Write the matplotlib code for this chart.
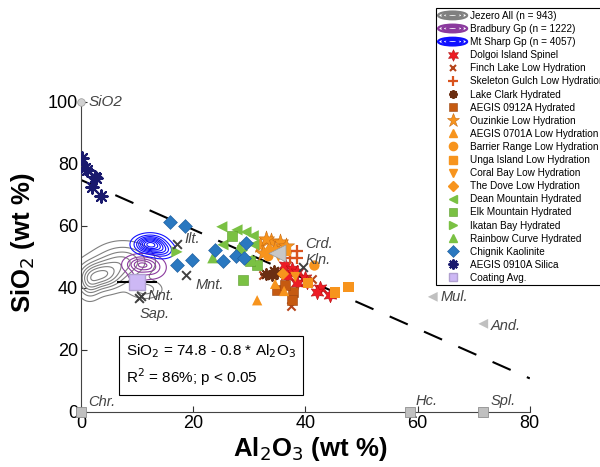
import numpy as np
import matplotlib.pyplot as plt
from matplotlib.lines import Line2D
from matplotlib.patches import Ellipse
from matplotlib.legend_handler import HandlerBase

plt.rcParams['font.family'] = ['Liberation Sans', 'DejaVu Sans']

# --- data (Al2O3, SiO2 in wt %) ---
dolgoi_x = [36.4, 37.6, 38.5, 39.9, 38.5, 40.3, 42.6, 42.0, 44.4, 36.8]
dolgoi_y = [47.4, 46.0, 45.2, 43.2, 41.6, 41.9, 40.0, 38.7, 37.7, 43.8]
finch_x = [37.4, 32.4, 41.2]
finch_y = [34.3, 44.2, 42.8]
skeleton_x = [37.3, 38.5, 37.3, 38.5]
skeleton_y = [52.0, 52.0, 49.6, 49.6]
lakeclark_x = [33.0, 34.0, 35.0, 34.4]
lakeclark_y = [44.4, 44.0, 44.8, 45.4]
aegis0912_x = [34.9, 37.8, 37.6, 36.4]
aegis0912_y = [39.4, 38.6, 36.1, 41.0]
ouzinkie_x = [31.9, 33.9, 35.5, 32.4, 34.6, 36.6, 33.0]
ouzinkie_y = [53.9, 55.2, 54.8, 51.3, 52.6, 53.6, 55.8]
aegis0701_x = [31.4, 34.6, 36.2]
aegis0701_y = [36.0, 41.3, 39.0]
barrier_x = [41.6, 33.4]
barrier_y = [47.2, 50.2]
unga_x = [47.7, 45.3, 36.6, 40.5]
unga_y = [40.2, 38.5, 51.8, 41.5]
coral_x = [35.2, 38.2]
coral_y = [50.0, 43.5]
dove_x = [33.6, 36.0]
dove_y = [52.2, 44.5]
dean_x = [25.1, 27.8, 30.7, 25.3, 30.8, 29.4]
dean_y = [59.7, 58.7, 56.8, 53.9, 53.9, 58.0]
elk_x = [26.9, 28.9, 31.4, 30.2]
elk_y = [56.8, 42.4, 47.4, 48.6]
ikatan_x = [17.1, 28.8]
ikatan_y = [51.6, 52.0]
rainbow_x = [23.5, 28.3, 30.5]
rainbow_y = [49.7, 53.2, 49.0]
chignik_x = [15.9, 18.6, 23.9, 25.3, 27.6, 29.0, 29.4, 17.1, 19.7]
chignik_y = [61.2, 60.0, 52.3, 48.6, 50.3, 49.7, 54.5, 47.3, 49.0]
silica_x = [0.2, 0.7, 1.1, 2.5, 2.7, 2.0, 3.6]
silica_y = [82.0, 78.7, 78.0, 75.8, 75.5, 72.6, 69.7]
coating_x, coating_y, coating_err = 10.0, 42.0, 3.6

# reference minerals
min_names = ['SiO2', 'Chr.', 'Hc.', 'Spl.', 'Mul.', 'And.', 'Crd.', 'Kln.', 'Ilt.', 'Mnt.', 'Nnt.', 'Sap.']
min_x = [0.0, 0.0, 58.6, 71.7, 62.7, 71.7, 34.9, 39.6, 17.1, 18.7, 10.7, 10.4]
min_y = [100.0, 0.0, 0.0, 0.0, 37.1, 28.4, 51.3, 46.8, 54.2, 44.2, 37.4, 36.6]

# regression
fit_a, fit_b = 74.8, -0.8

# density clouds (sum of gaussian blobs: centre x, centre y, sx, sy, weight)
jezero_blobs = [(3.5, 44.0, 2.5, 3.0, 1.0), (7.5, 48.5, 3.0, 3.5, 0.6),
                (11.5, 39.5, 1.8, 1.8, 0.35), (1.5, 41.0, 1.2, 3.0, 0.4)]
bradbury_blobs = [(10.5, 47.5, 1.5, 1.6, 1.0), (12.6, 46.5, 1.4, 2.0, 0.5),
                  (10.0, 43.8, 0.9, 1.2, 0.3)]
mtsharp_blobs = [(12.3, 54.0, 1.6, 1.7, 1.0), (14.6, 52.0, 1.3, 1.5, 0.35)]

fig = plt.figure(figsize=(6, 4.67), dpi=100)
ax = fig.add_axes([0.135, 0.118, 0.748, 0.664])

gx, gy = np.meshgrid(np.linspace(-2, 25, 300), np.linspace(25, 70, 300))


def density(blobs):
    z = np.zeros_like(gx)
    for cx, cy, sx, sy, w in blobs:
        z += w * np.exp(-0.5 * (((gx - cx) / sx) ** 2 + ((gy - cy) / sy) ** 2))
    return z


for blobs, col, n in [(jezero_blobs, '#808080', 7), (bradbury_blobs, '#8b3a9e', 5),
                      (mtsharp_blobs, '#1010ff', 8)]:
    z = density(blobs)
    ax.contour(gx, gy, z, levels=np.linspace(0.08, 0.92, n) * z.max(),
               colors=col, linewidths=0.8)

xs = np.array([0, 80])
ax.plot(xs, fit_a + fit_b * xs, color='black', lw=1.5, ls=(0, (9.5, 8.5)), zorder=2)

orange = '#f7941d'
green = '#7ac143'
series = [
    ('Dolgoi Island Spinel', dolgoi_x, dolgoi_y, dict(marker=(6, 1, 0), color='#ee1c25', s=110, edgecolors='#b01010', linewidths=0.4)),
    ('Finch Lake Low Hydration', finch_x, finch_y, dict(marker='x', color='#b5441a', s=35, linewidths=1.5)),
    ('Skeleton Gulch Low Hydration', skeleton_x, skeleton_y, dict(marker='+', color='#d9531e', s=70, linewidths=1.6)),
    ('Lake Clark Hydrated', lakeclark_x, lakeclark_y, dict(marker=(8, 2, 0), color='#6b2e12', s=60, linewidths=1.4)),
    ('AEGIS 0912A Hydrated', aegis0912_x, aegis0912_y, dict(marker='s', color='#c55a11', s=55, edgecolors='#9a4510', linewidths=0.4)),
    ('Ouzinkie Low Hydration', ouzinkie_x, ouzinkie_y, dict(marker='*', color=orange, s=150, edgecolors='#c86a10', linewidths=0.4)),
    ('AEGIS 0701A Low Hydration', aegis0701_x, aegis0701_y, dict(marker='^', color=orange, s=55, edgecolors='none')),
    ('Barrier Range Low Hydration', barrier_x, barrier_y, dict(marker='o', color=orange, s=55, edgecolors='none')),
    ('Unga Island Low Hydration', unga_x, unga_y, dict(marker='s', color=orange, s=55, edgecolors='none')),
    ('Coral Bay Low Hydration', coral_x, coral_y, dict(marker='v', color=orange, s=55, edgecolors='none')),
    ('The Dove Low Hydration', dove_x, dove_y, dict(marker='D', color=orange, s=40, edgecolors='none')),
    ('Dean Mountain Hydrated', dean_x, dean_y, dict(marker='<', color=green, s=65, edgecolors='none')),
    ('Elk Mountain Hydrated', elk_x, elk_y, dict(marker='s', color=green, s=55, edgecolors='#5a9a2a', linewidths=0.4)),
    ('Ikatan Bay Hydrated', ikatan_x, ikatan_y, dict(marker='>', color=green, s=65, edgecolors='none')),
    ('Rainbow Curve Hydrated', rainbow_x, rainbow_y, dict(marker='^', color=green, s=65, edgecolors='none')),
    ('Chignik Kaolinite', chignik_x, chignik_y, dict(marker='D', color='#2a78c0', s=50, edgecolors='#1a5a9a', linewidths=0.4)),
    ('AEGIS 0910A Silica', silica_x, silica_y, dict(marker=(8, 2, 0), color='#1a1a6e', s=80, linewidths=1.5)),
]
for label, x, y, kw in series:
    ax.scatter(x, y, zorder=3, **kw)

ax.errorbar([coating_x], [coating_y], xerr=[coating_err], fmt='s', ms=12,
            mfc='#cdb8f5', mec='#b0a0d0', ecolor='black', elinewidth=1.5, capsize=0, zorder=4)

# reference mineral markers
grey = '#c0c0c0'
ax.scatter([min_x[0]], [min_y[0]], marker='o', s=30, color='#d0d0d0', edgecolors='#999999', lw=0.5, zorder=5, clip_on=False)
ax.scatter(min_x[1:4], min_y[1:4], marker='s', s=55, color=grey, edgecolors='#909090', lw=0.6, zorder=5, clip_on=False)
ax.scatter(min_x[4:6], min_y[4:6], marker='<', s=50, color=grey, edgecolors='none', zorder=5)
ax.scatter([min_x[6]], [min_y[6]], marker='<', s=150, color='#c8c8c8', edgecolors='#999999', lw=0.5, zorder=5)
ax.scatter(min_x[7:], min_y[7:], marker='x', s=40, color='#404040', lw=1.4, zorder=5)

lab_off = {'SiO2': (1.3, 0), 'Chr.': (1.3, 3.2), 'Hc.': (1.0, 3.5), 'Spl.': (1.3, 3.5),
           'Mul.': (1.4, 0), 'And.': (1.3, -0.8), 'Crd.': (5.0, 2.8), 'Kln.': (0.5, 2.2),
           'Ilt.': (1.4, 1.5), 'Mnt.': (1.8, -3.2), 'Nnt.': (1.2, 0), 'Sap.': (0.1, -5.0)}
for name, x, y in zip(min_names, min_x, min_y):
    dx, dy = lab_off[name]
    ax.text(x + dx, y + dy, name, style='italic', fontsize=11 if name == 'SiO2' else 10.5,
            color='#444444', va='center', ha='left', zorder=6)

ax.text(8.0, 15.0, 'SiO$_2$ = 74.8 - 0.8 * Al$_2$O$_3$\nR$^2$ = 86%; p < 0.05',
        fontsize=11, linespacing=1.35, va='center', ha='left',
        bbox=dict(boxstyle='square,pad=0.45', fc='white', ec='black', lw=0.8))

ax.set_xlim(0, 80)
ax.set_ylim(0, 100)
ax.set_xticks([0, 20, 40, 60, 80])
ax.set_yticks([0, 20, 40, 60, 80, 100])
ax.tick_params(direction='in', labelsize=13, length=4, color='#333333', pad=2)
for s in ['top', 'right']:
    ax.spines[s].set_visible(False)
for s in ['left', 'bottom']:
    ax.spines[s].set_color('#444444')
ax.set_xlabel('Al$_2$O$_3$ (wt %)', fontsize=18.5, fontweight='bold')
ax.set_ylabel('SiO$_2$ (wt %)', fontsize=18.5, fontweight='bold')
ax.xaxis.set_label_coords(0.51, -0.075)
ax.yaxis.set_label_coords(-0.098, 0.545)


class HandlerRings(HandlerBase):
    def create_artists(self, legend, orig, x0, y0, w, h, fontsize, trans):
        col = orig.get_color()
        arts = []
        for k in range(3):
            f = 1 - 0.3 * k
            arts.append(Ellipse((x0 + w / 2, y0 + h / 2), w * f, h * 1.1 * f, fill=False,
                                edgecolor=col, lw=1.6, transform=trans))
        return arts


handles = [Line2D([], [], color='#808080'), Line2D([], [], color='#8b3a9e'), Line2D([], [], color='#1010ff')]
labels = ['Jezero All (n = 943)', 'Bradbury Gp (n = 1222)', 'Mt Sharp Gp (n = 4057)']
hmap = {h: HandlerRings() for h in handles}
for label, x, y, kw in series:
    m = kw['marker']
    handles.append(Line2D([], [], ls='', marker=m, color=kw['color'],
                          markersize=np.sqrt(kw['s']) * 0.8,
                          mec=kw.get('edgecolors', kw['color']) if kw.get('edgecolors') != 'none' else kw['color'],
                          mew=kw.get('linewidths', 1.0)))
    labels.append(label)
handles.append(Line2D([], [], ls='', marker='s', ms=6, mfc='#cdb8f5', mec='#b0a0d0'))
labels.append('Coating Avg.')

leg = fig.legend(handles, labels, handler_map=hmap, loc='upper left',
                 bbox_to_anchor=(0.726, 0.982), fontsize=7.2, labelspacing=0.31,
                 handlelength=2.9, handletextpad=0.3, borderpad=0.25, borderaxespad=0,
                 fancybox=False, edgecolor='black', framealpha=1)
leg.get_frame().set_linewidth(0.8)

fig.savefig('out.png', dpi=100)
